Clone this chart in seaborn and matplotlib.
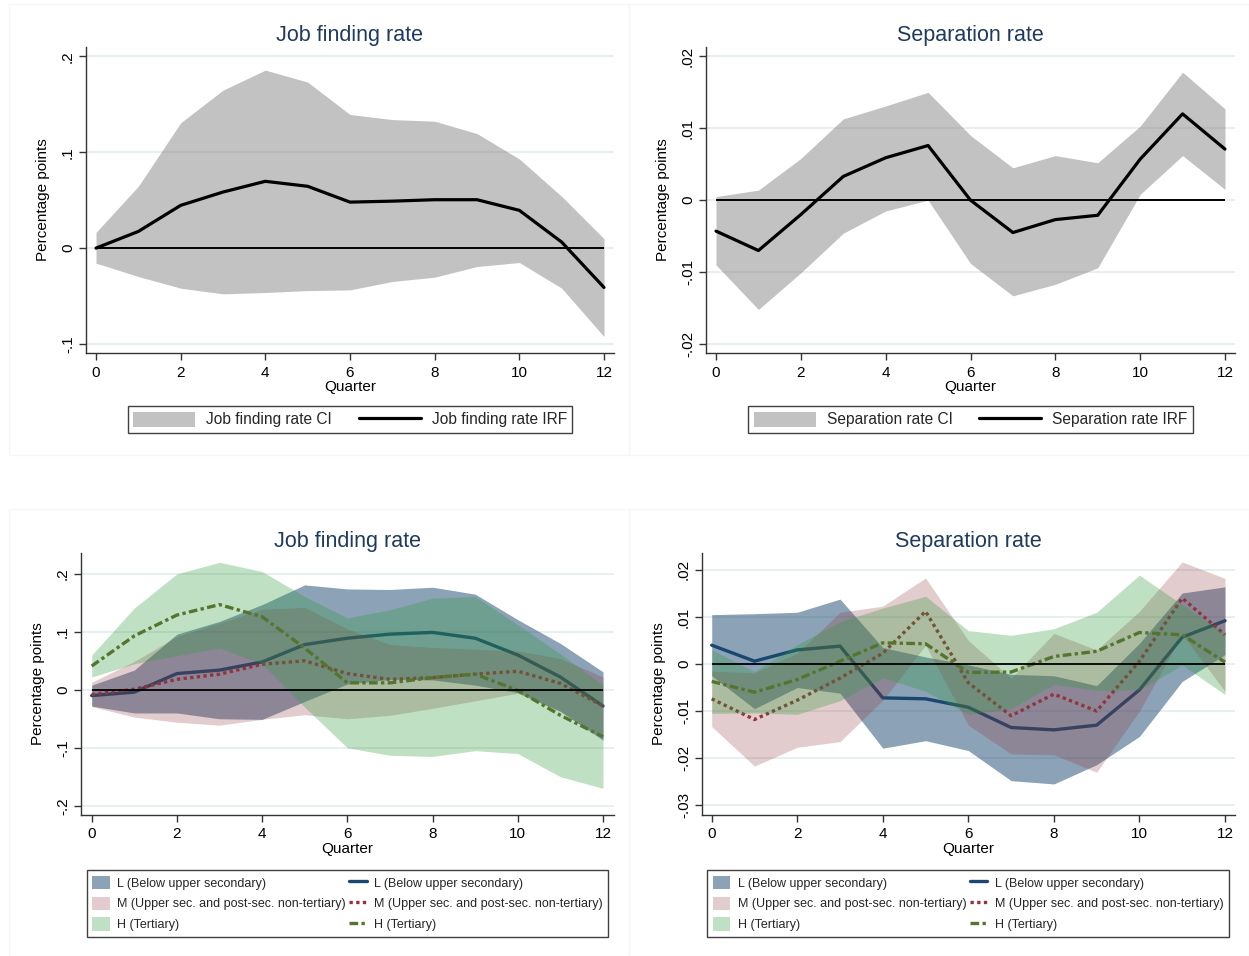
import numpy as np
import pandas as pd
import matplotlib
matplotlib.use('Agg')
import matplotlib.pyplot as plt
from matplotlib.patches import Patch, Rectangle
from matplotlib.lines import Line2D
import seaborn as sns

quarters = list(range(13))

# aggregate responses
jf_irf = [0.0, 0.0174, 0.0446, 0.0585, 0.0697, 0.0645, 0.048, 0.049, 0.0505, 0.0505, 0.0394, 0.0063, -0.041]
jf_hi = [0.0164, 0.0645, 0.1307, 0.1648, 0.1857, 0.1732, 0.1394, 0.1341, 0.1324, 0.1195, 0.093, 0.054, 0.0098]
jf_lo = [-0.0157, -0.0296, -0.0418, -0.0477, -0.0463, -0.0443, -0.0436, -0.0348, -0.0303, -0.0192, -0.015, -0.0418, -0.0923]

sep_irf = [-0.0043, -0.0070, -0.0020, 0.0033, 0.0059, 0.0076, 0.0000, -0.0045, -0.0027, -0.0021, 0.0057, 0.0120, 0.0071]
sep_hi = [0.0005, 0.0014, 0.0058, 0.0113, 0.0131, 0.0150, 0.0090, 0.0045, 0.0062, 0.0052, 0.0103, 0.0178, 0.0127]
sep_lo = [-0.0090, -0.0152, -0.0101, -0.0046, -0.0015, 0.0000, -0.0088, -0.0133, -0.0117, -0.0094, 0.0008, 0.0062, 0.0015]

# job finding by education
jf_L = [-0.010, -0.004, 0.028, 0.034, 0.048, 0.078, 0.089, 0.096, 0.099, 0.089, 0.060, 0.022, -0.028]
jf_L_hi = [0.008, 0.034, 0.096, 0.118, 0.147, 0.181, 0.174, 0.173, 0.177, 0.165, 0.121, 0.080, 0.031]
jf_L_lo = [-0.028, -0.040, -0.040, -0.050, -0.051, -0.020, 0.010, 0.018, 0.017, 0.008, -0.005, -0.037, -0.087]
jf_M = [-0.008, 0.001, 0.018, 0.027, 0.044, 0.050, 0.028, 0.018, 0.021, 0.027, 0.032, 0.011, -0.028]
jf_M_hi = [0.013, 0.049, 0.092, 0.115, 0.139, 0.142, 0.105, 0.078, 0.073, 0.070, 0.067, 0.054, 0.022]
jf_M_lo = [-0.029, -0.047, -0.056, -0.061, -0.051, -0.043, -0.050, -0.044, -0.032, -0.019, -0.006, -0.038, -0.084]
jf_H = [0.041, 0.093, 0.129, 0.147, 0.126, 0.072, 0.012, 0.012, 0.021, 0.027, -0.001, -0.044, -0.081]
jf_H_hi = [0.060, 0.141, 0.200, 0.220, 0.204, 0.161, 0.124, 0.138, 0.158, 0.161, 0.112, 0.062, 0.008]
jf_H_lo = [0.022, 0.045, 0.059, 0.072, 0.045, -0.030, -0.100, -0.113, -0.115, -0.105, -0.110, -0.150, -0.170]

# separation by education
sep_L = [0.0040, 0.0006, 0.0030, 0.0038, -0.0072, -0.0074, -0.0092, -0.0135, -0.0140, -0.0130, -0.0055, 0.0057, 0.0092]
sep_L_hi = [0.0105, 0.0107, 0.0110, 0.0138, 0.0035, 0.0015, -0.0002, -0.0022, -0.0025, -0.0046, 0.0044, 0.0151, 0.0164]
sep_L_lo = [-0.0025, -0.0095, -0.0050, -0.0062, -0.0179, -0.0163, -0.0184, -0.0248, -0.0255, -0.0214, -0.0154, -0.0037, 0.0020]
sep_M = [-0.0074, -0.0118, -0.0077, -0.0030, 0.0023, 0.0112, -0.0040, -0.0110, -0.0064, -0.0100, 0.0006, 0.0140, 0.0062]
sep_M_hi = [-0.0015, -0.0019, 0.0023, 0.0110, 0.0123, 0.0183, 0.0050, -0.0030, 0.0065, 0.0030, 0.0112, 0.0217, 0.0182]
sep_M_lo = [-0.0133, -0.0217, -0.0177, -0.0165, -0.0077, 0.0040, -0.0130, -0.0191, -0.0193, -0.0230, -0.0100, 0.0063, -0.0058]
sep_H = [-0.0037, -0.0060, -0.0033, 0.0006, 0.0045, 0.0043, -0.0018, -0.0017, 0.0016, 0.0027, 0.0067, 0.0062, 0.0004]
sep_H_hi = [0.0030, -0.0016, 0.0041, 0.0090, 0.0119, 0.0144, 0.0071, 0.0061, 0.0075, 0.0110, 0.0189, 0.0126, 0.0065]
sep_H_lo = [-0.0105, -0.0104, -0.0107, -0.0078, -0.0029, -0.0058, -0.0107, -0.0095, -0.0043, -0.0056, -0.0055, -0.0002, -0.0065]

edu_labels = ['L (Below upper secondary)',
              'M (Upper sec. and post-sec. non-tertiary)',
              'H (Tertiary)']

line_colors = ['#1a476f', '#90353b', '#55752f']
fill_colors = ['#1a476f', '#90353b', '#2e9a3a']
fill_alphas = [0.5, 0.25, 0.3]
line_styles = ['-', (0, (1, 1)), (0, (2.6, 1.0, 1.0, 1.0))]

title_color = '#1e3a5f'
grid_color = '#e4eced'

sns.set_theme(style='white')
plt.rcParams['font.family'] = ['Liberation Sans', 'DejaVu Sans']

W, H = 1249, 956
fig = plt.figure(figsize=(W / 100, H / 100), dpi=100)


def stata_fmt(v):
    s = '%g' % round(v, 4)
    if s.startswith('0.'):
        s = s[1:]
    elif s.startswith('-0.'):
        s = '-' + s[2:]
    return s


def axes_px(left, top, right, bottom):
    return fig.add_axes([left / W, 1 - bottom / H, (right - left) / W, (bottom - top) / H])


def style_axes(ax, title, xlim, ylim, yticks):
    ax.set_xlim(*xlim)
    ax.set_ylim(*ylim)
    ax.set_xticks(range(0, 13, 2))
    ax.set_yticks(yticks)
    ax.set_yticklabels([stata_fmt(v) for v in yticks], rotation=90, va='center')
    ax.yaxis.grid(True, color=grid_color, lw=1.2)
    ax.xaxis.grid(False)
    for side in ['top', 'right']:
        ax.spines[side].set_visible(False)
    for side in ['left', 'bottom']:
        ax.spines[side].set_color('#333333')
        ax.spines[side].set_linewidth(1.0)
    ax.tick_params(axis='both', direction='out', length=5, width=1, color='#333333',
                   labelsize=11, labelcolor='black', left=True, bottom=True)
    ax.tick_params(axis='x', pad=4)
    ax.tick_params(axis='y', pad=3)
    ax.set_title(title, fontsize=15.5, color=title_color, pad=4)
    ax.set_xlabel('Quarter', fontsize=11, labelpad=0, color='black')
    ax.set_ylabel('Percentage points', fontsize=11, labelpad=8, color='black')


def draw_single(ax, irf, hi, lo, name):
    df = pd.DataFrame({'q': quarters, 'irf': irf, 'hi': hi, 'lo': lo})
    ax.fill_between(df['q'], df['lo'], df['hi'], color='#7f7f7f', alpha=0.47, lw=0, zorder=1)
    ax.hlines(0, 0, 12, color='black', lw=1.4, zorder=2)
    sns.lineplot(data=df, x='q', y='irf', ax=ax, color='black', lw=2.3,
                 errorbar=None, legend=False, zorder=3)
    handles = [Patch(facecolor='#7f7f7f', alpha=0.47, edgecolor='none'),
               Line2D([], [], color='black', lw=2.3)]
    return handles, [name + ' CI', name + ' IRF']


def draw_groups(ax, groups):
    for i, (mid, hi, lo) in enumerate(groups):
        df = pd.DataFrame({'q': quarters, 'mid': mid, 'hi': hi, 'lo': lo})
        ax.fill_between(df['q'], df['lo'], df['hi'], color=fill_colors[i],
                        alpha=fill_alphas[i], lw=0, zorder=2 + 2 * i)
        sns.lineplot(data=df, x='q', y='mid', ax=ax, color=line_colors[i], lw=2.4,
                     linestyle=line_styles[i], errorbar=None, legend=False, zorder=3 + 2 * i)
    ax.hlines(0, 0, 12, color='black', lw=1.3, zorder=7.5)
    handles = [Patch(facecolor=fill_colors[i], alpha=fill_alphas[i], edgecolor='none') for i in range(3)]
    handles += [Line2D([], [], color=line_colors[i], lw=2.4, linestyle=line_styles[i]) for i in range(3)]
    return handles, edu_labels + edu_labels


# faint panel outlines
for (x0, y0, x1, y1) in [(9, 4, 629, 455), (629, 4, 1249, 455), (9, 509, 629, 956), (629, 509, 1249, 956)]:
    fig.add_artist(Rectangle((x0 / W, 1 - y1 / H), (x1 - x0) / W, (y1 - y0) / H,
                             transform=fig.transFigure, fill=False, edgecolor='#f6f6f6', lw=1))

ax_tl = axes_px(86, 47, 614, 353)
ax_tr = axes_px(706, 47, 1235, 353)
ax_bl = axes_px(81, 553, 614, 815)
ax_br = axes_px(702, 553, 1235, 815)

top_legend = dict(loc='center', ncol=2, fontsize=11.2, handlelength=4.0, handleheight=1.1,
                  columnspacing=1.7, frameon=True, fancybox=False, edgecolor='#404040',
                  framealpha=1, borderpad=0.35, handletextpad=0.7)
bottom_legend = dict(loc='center', ncol=2, fontsize=9.0, handlelength=1.4, handleheight=1.3,
                     columnspacing=0.25, labelspacing=0.55, frameon=True, fancybox=False,
                     edgecolor='#404040', framealpha=1, borderpad=0.45, handletextpad=0.6)

h, l = draw_single(ax_tl, jf_irf, jf_hi, jf_lo, 'Job finding rate')
style_axes(ax_tl, 'Job finding rate', (-0.236, 12.236), (-0.1094, 0.2098), [-0.1, 0, 0.1, 0.2])
fig.legend(h, l, bbox_to_anchor=(350 / W, 1 - 419.5 / H), **top_legend)

h, l = draw_single(ax_tr, sep_irf, sep_hi, sep_lo, 'Separation rate')
style_axes(ax_tr, 'Separation rate', (-0.236, 12.236), (-0.02125, 0.0213), [-0.02, -0.01, 0, 0.01, 0.02])
fig.legend(h, l, bbox_to_anchor=(970.5 / W, 1 - 419.5 / H), **top_legend)

h, l = draw_groups(ax_bl, [(jf_L, jf_L_hi, jf_L_lo), (jf_M, jf_M_hi, jf_M_lo), (jf_H, jf_H_hi, jf_H_lo)])
style_axes(ax_bl, 'Job finding rate', (-0.251, 12.258), (-0.216, 0.236), [-0.2, -0.1, 0, 0.1, 0.2])
fig.legend(h, l, bbox_to_anchor=(347.5 / W, 1 - 903.5 / H), **bottom_legend)

h, l = draw_groups(ax_br, [(sep_L, sep_L_hi, sep_L_lo), (sep_M, sep_M_hi, sep_M_lo), (sep_H, sep_H_hi, sep_H_lo)])
style_axes(ax_br, 'Separation rate', (-0.227, 12.234), (-0.0321, 0.0236),
           [-0.03, -0.02, -0.01, 0, 0.01, 0.02])
fig.legend(h, l, bbox_to_anchor=(968 / W, 1 - 903.5 / H), **bottom_legend)

fig.savefig('out.png', dpi=100, facecolor='white')
